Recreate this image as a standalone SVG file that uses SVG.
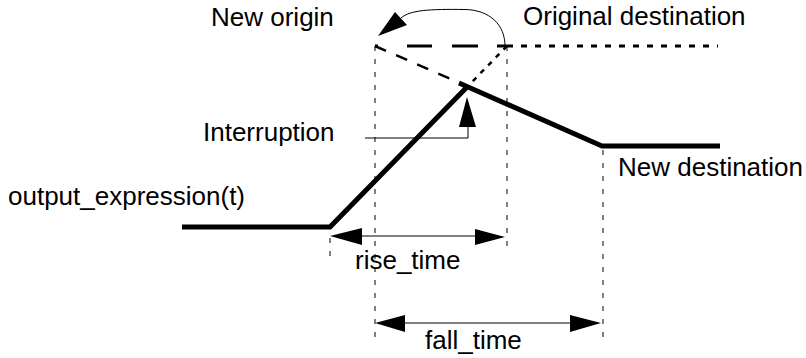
<svg xmlns="http://www.w3.org/2000/svg" width="806" height="358" viewBox="0 0 806 358">
<style>
text{font-family:"Liberation Sans",Arial,sans-serif;font-size:26px;fill:#000}
.thin{stroke:#000;stroke-width:1;fill:none}
.vd{stroke:#000;stroke-width:1;fill:none;stroke-dasharray:5 8}
.thick{stroke:#000;stroke-width:5;fill:none;stroke-linejoin:miter}
.ah{fill:#000}
</style>
<rect width="806" height="358" fill="#fff"/>
<g id="guides">
<path class="vd" d="M375,46V345"/>
<path class="vd" d="M507,46V253"/>
<path class="vd" d="M330,238V260"/>
<path class="vd" d="M603,150V340"/>
</g>
<g id="signal">
<path class="thick" d="M182,227H330L467,87"/>
<path class="thick" d="M459,83L602,146H720"/>
</g>
<g id="original-path">
<path d="M375,46H507" stroke="#000" stroke-width="3" fill="none" stroke-dasharray="3 29 25 20 26 19 10 0"/>
<path d="M507,46H718" stroke="#000" stroke-width="3" fill="none" stroke-dasharray="6 8"/>
<path d="M375,46L460,83" stroke="#000" stroke-width="2.5" fill="none" stroke-dasharray="12 11"/>
<path d="M507,46L470,84" stroke="#000" stroke-width="2.5" fill="none" stroke-dasharray="5 6"/>
</g>
<g id="connectors">
<path class="thin" d="M505,46C505,25 490,10 465,9.5C430,9 410,10 401,18"/>
<polygon class="ah" points="378,36 395,12 407,25"/>
<path class="thin" d="M365,138H468V126"/>
<polygon class="ah" points="467,97 459,127 476,127"/>
<path class="thin" d="M355,236H478"/>
<polygon class="ah" points="330,236 362,228 362,245"/>
<polygon class="ah" points="505,237 475,229 475,245"/>
<path class="thin" d="M400,323H575"/>
<polygon class="ah" points="375,323 405,315 405,332"/>
<polygon class="ah" points="601,323 570,315 570,332"/>
</g>
<g id="labels">
<text x="211" y="26">New origin</text>
<text x="523" y="25">Original destination</text>
<text x="203" y="141">Interruption</text>
<text x="8" y="205">output_expression(t)</text>
<text x="618" y="176">New destination</text>
<text x="355" y="269">rise_time</text>
<text x="425" y="349">fall_time</text>
</g>
</svg>
